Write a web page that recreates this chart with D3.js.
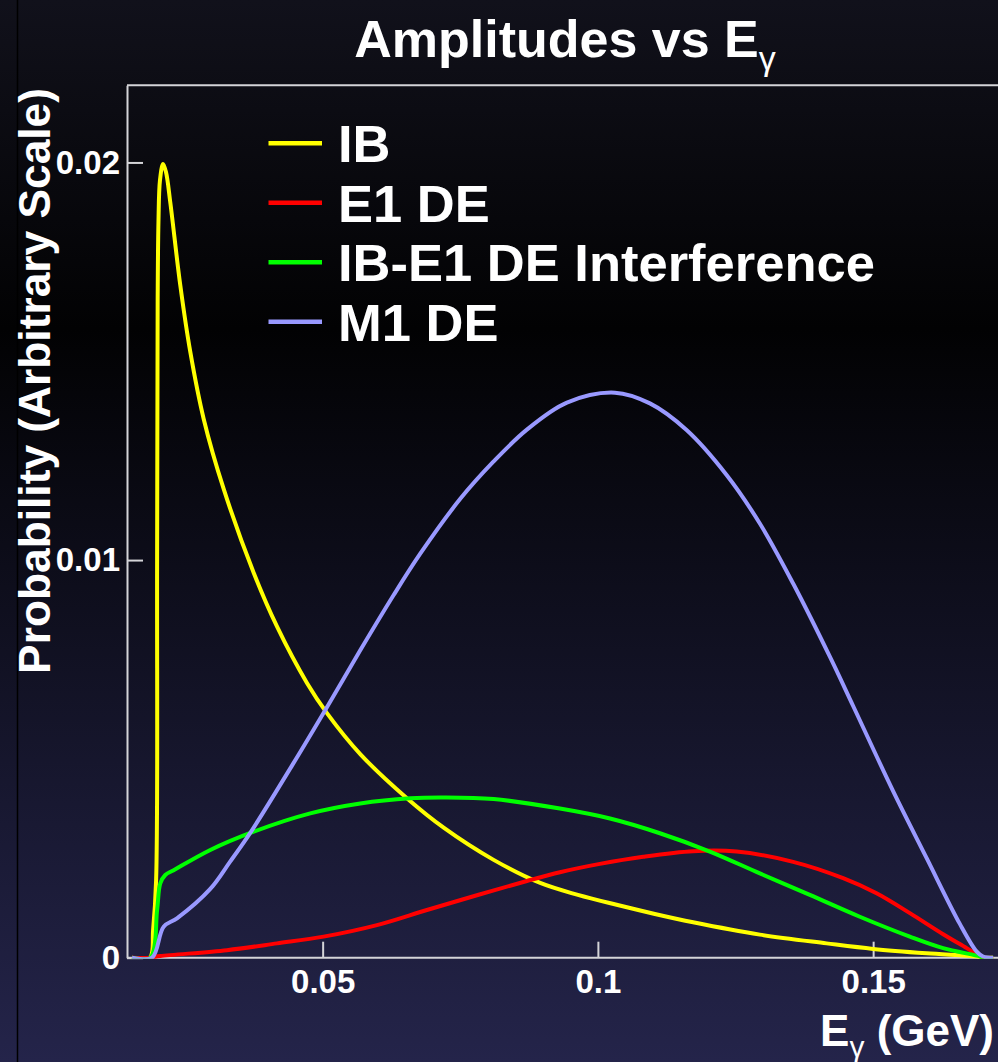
<!DOCTYPE html>
<html>
<head>
<meta charset="utf-8">
<script src="https://cdn.jsdelivr.net/npm/d3@7"></script>
<style>
  html, body { margin: 0; padding: 0; background: #000; }
  svg { display: block; }
  text { font-family: "Liberation Sans", Arial, Helvetica, sans-serif; font-weight: bold; fill: #fff; }
</style>
</head>
<body>
<svg id="chart" width="998" height="1062"></svg>
<script>
// Photon energy (GeV) and probability samples for each amplitude
const ibEnergy = [0.01536, 0.0186, 0.0192, 0.01975, 0.01993, 0.02003, 0.02018, 0.02045, 0.0210, 0.02154, 0.02232, 0.02414, 0.02595, 0.02839, 0.03202, 0.03747, 0.0417, 0.04715, 0.05078, 0.05683, 0.06531, 0.07198, 0.08106, 0.08952, 0.09637, 0.1034, 0.11035, 0.1173, 0.12942, 0.14153, 0.15, 0.1597, 0.16878, 0.1699, 0.1718];
const ibProb   = [0, 0, 0.0007, 0.00196, 0.0100, 0.01654, 0.01854, 0.01955, 0.01996, 0.01976, 0.0190, 0.01691, 0.01524, 0.01355, 0.01179, 0.00968, 0.00833, 0.00691, 0.00615, 0.00512, 0.00401, 0.00327, 0.00246, 0.00188, 0.00158, 0.00133, 0.0011, 0.00089, 0.00058, 0.00036, 0.00022, 0.00011, 0.00003, 0, 0];

const e1Energy = [0.01536, 0.0186, 0.02051, 0.03262, 0.0417, 0.05018, 0.05986, 0.06894, 0.07802, 0.0871, 0.0931, 0.10036, 0.10823, 0.1173, 0.1252, 0.13547, 0.14455, 0.15062, 0.15667, 0.16272, 0.1670, 0.1694, 0.1699, 0.1718];
const e1Prob   = [0, 0, 0.00004, 0.00019, 0.00036, 0.00053, 0.00082, 0.0012, 0.00157, 0.00193, 0.00215, 0.00236, 0.00254, 0.00268, 0.00267, 0.00241, 0.002, 0.00162, 0.00112, 0.00059, 0.00024, 0.00004, 0, 0];

const intEnergy = [0.01536, 0.0187, 0.01993, 0.02051, 0.02141, 0.02294, 0.02959, 0.03747, 0.04775, 0.05683, 0.06591, 0.07198, 0.08106, 0.0931, 0.1022, 0.11126, 0.12034, 0.12942, 0.1385, 0.14758, 0.15667, 0.16272, 0.1694, 0.1699, 0.1718];
const intProb   = [0, 0, 0.0012, 0.00187, 0.00208, 0.0022, 0.00271, 0.00317, 0.00363, 0.00388, 0.00401, 0.00403, 0.00399, 0.00375, 0.0035, 0.00313, 0.00267, 0.00212, 0.00158, 0.00103, 0.00053, 0.00024, 0.00003, 0, 0];

const m1Energy = [0.01536, 0.0190, 0.02112, 0.02354, 0.02959, 0.03316, 0.03685, 0.04473, 0.05078, 0.05683, 0.0629, 0.06773, 0.0750, 0.08106, 0.0871, 0.09437, 0.1031, 0.10945, 0.11611, 0.12338, 0.12942, 0.13547, 0.14214, 0.14637, 0.15363, 0.1597, 0.16575, 0.16878, 0.16998, 0.1718];
const m1Prob   = [0, 0, 0.00078, 0.00099, 0.00173, 0.00241, 0.00314, 0.0049, 0.0063, 0.00773, 0.00912, 0.01016, 0.01154, 0.01248, 0.01328, 0.01396, 0.01421, 0.01394, 0.01327, 0.01214, 0.01092, 0.00941, 0.00757, 0.00633, 0.00419, 0.00251, 0.00085, 0.00016, 0.00003, 0];

const seriesNames  = ["IB", "E1 DE", "IB-E1 DE Interference", "M1 DE"];
const seriesColors = ["#ffff00", "#ff0000", "#00ff00", "#9999ff"];

const xTicks = [0.05, 0.1, 0.15];
const xTickLabels = ["0.05", "0.1", "0.15"];
const yTicks = [0, 0.01, 0.02];
const yTickLabels = ["0", "0.01", "0.02"];

const W = 998, H = 1062;
const plot = { left: 127, right: 997, top: 85.3, bottom: 957.7 };

const svg = d3.select("#chart");

// Background: dark grey at top, near black, then navy at the bottom
const defs = svg.append("defs");
const grad = defs.append("linearGradient")
  .attr("id", "bg").attr("x1", 0).attr("y1", 0).attr("x2", 0).attr("y2", 1);
grad.append("stop").attr("offset", "0%").attr("stop-color", "#11111b");
grad.append("stop").attr("offset", "31%").attr("stop-color", "#020203");
grad.append("stop").attr("offset", "100%").attr("stop-color", "#24244a");
svg.append("rect").attr("width", W).attr("height", H).attr("fill", "url(#bg)");

defs.append("clipPath").attr("id", "plotClip")
  .append("rect")
  .attr("x", plot.left).attr("y", plot.top)
  .attr("width", W - plot.left).attr("height", plot.bottom - plot.top + 1);

// thin dark rule along the left edge
svg.append("line").attr("x1", 17.5).attr("x2", 17.5).attr("y1", 0).attr("y2", H)
  .attr("stroke", "#000").attr("stroke-width", 1.5);

const x = d3.scaleLinear().domain([0.01446, 0.1725]).range([plot.left, plot.right]);
const y = d3.scaleLinear().domain([0, 0.02194]).range([plot.bottom, plot.top]);

const axisColor = "#d4d4d8";

// Top frame line
svg.append("line")
  .attr("x1", plot.left).attr("x2", W).attr("y1", plot.top).attr("y2", plot.top)
  .attr("stroke", axisColor).attr("stroke-width", 2);

// Axes with ticks pointing into the plot
const xAxis = d3.axisBottom(x)
  .tickValues(xTicks)
  .tickFormat((d, i) => xTickLabels[i])
  .tickSize(-16).tickSizeOuter(0).tickPadding(12);
const gx = svg.append("g").attr("transform", `translate(0,${plot.bottom})`).call(xAxis);

const yAxis = d3.axisLeft(y)
  .tickValues(yTicks)
  .tickFormat((d, i) => yTickLabels[i])
  .tickSize(-16).tickSizeOuter(0).tickPadding(7);
const gy = svg.append("g").attr("transform", `translate(${plot.left},0)`).call(yAxis);

[gx, gy].forEach(g => {
  g.select(".domain").attr("stroke", axisColor).attr("stroke-width", 2);
  g.selectAll(".tick line").attr("stroke", axisColor).attr("stroke-width", 2);
  g.selectAll(".tick text")
    .attr("fill", "#fff")
    .style("font-family", '"Liberation Sans", Arial, Helvetica, sans-serif')
    .style("font-weight", "bold")
    .style("font-size", "33px");
});
gx.select(".domain").attr("d", `M${plot.left},0H${W}`);

// Curves
const line = d3.line()
  .x(d => x(d[0]))
  .y(d => y(d[1]))
  .curve(d3.curveCatmullRom.alpha(0.5));

const seriesData = [
  d3.zip(ibEnergy, ibProb),
  d3.zip(e1Energy, e1Prob),
  d3.zip(intEnergy, intProb),
  d3.zip(m1Energy, m1Prob)
];

svg.append("g").attr("clip-path", "url(#plotClip)")
  .selectAll("path")
  .data(seriesData)
  .join("path")
  .attr("d", line)
  .attr("fill", "none")
  .attr("stroke", (d, i) => seriesColors[i])
  .attr("stroke-width", 4)
  .attr("stroke-linejoin", "round");

// Legend
const legend = svg.append("g");
const legendRowY = d => 143.3 + d * 59.5;
seriesNames.forEach((name, i) => {
  legend.append("line")
    .attr("x1", 268.5).attr("x2", 322).attr("y1", legendRowY(i)).attr("y2", legendRowY(i))
    .attr("stroke", seriesColors[i]).attr("stroke-width", 4.5);
  legend.append("text")
    .attr("x", 338).attr("y", legendRowY(i) + 19)
    .style("font-size", "52.5px")
    .text(name);
});

// Title
const title = svg.append("text")
  .attr("x", 565).attr("y", 57)
  .attr("text-anchor", "middle")
  .style("font-size", "52px");
title.append("tspan").text("Amplitudes vs E");
title.append("tspan").attr("dy", 13).style("font-size", "34px").style("font-weight", "normal").text("γ");

// X axis title
const xTitle = svg.append("text")
  .attr("x", 994).attr("y", 1046)
  .attr("text-anchor", "end")
  .style("font-size", "44px");
xTitle.append("tspan").text("E");
xTitle.append("tspan").attr("dy", 11).style("font-size", "30px").style("font-weight", "normal").text("γ");
xTitle.append("tspan").attr("dy", -11).text(" (GeV)");

// Y axis title
svg.append("text")
  .attr("transform", "translate(50,88) rotate(-90)")
  .attr("text-anchor", "end")
  .style("font-size", "44.3px")
  .text("Probability (Arbitrary Scale)");
</script>
</body>
</html>
